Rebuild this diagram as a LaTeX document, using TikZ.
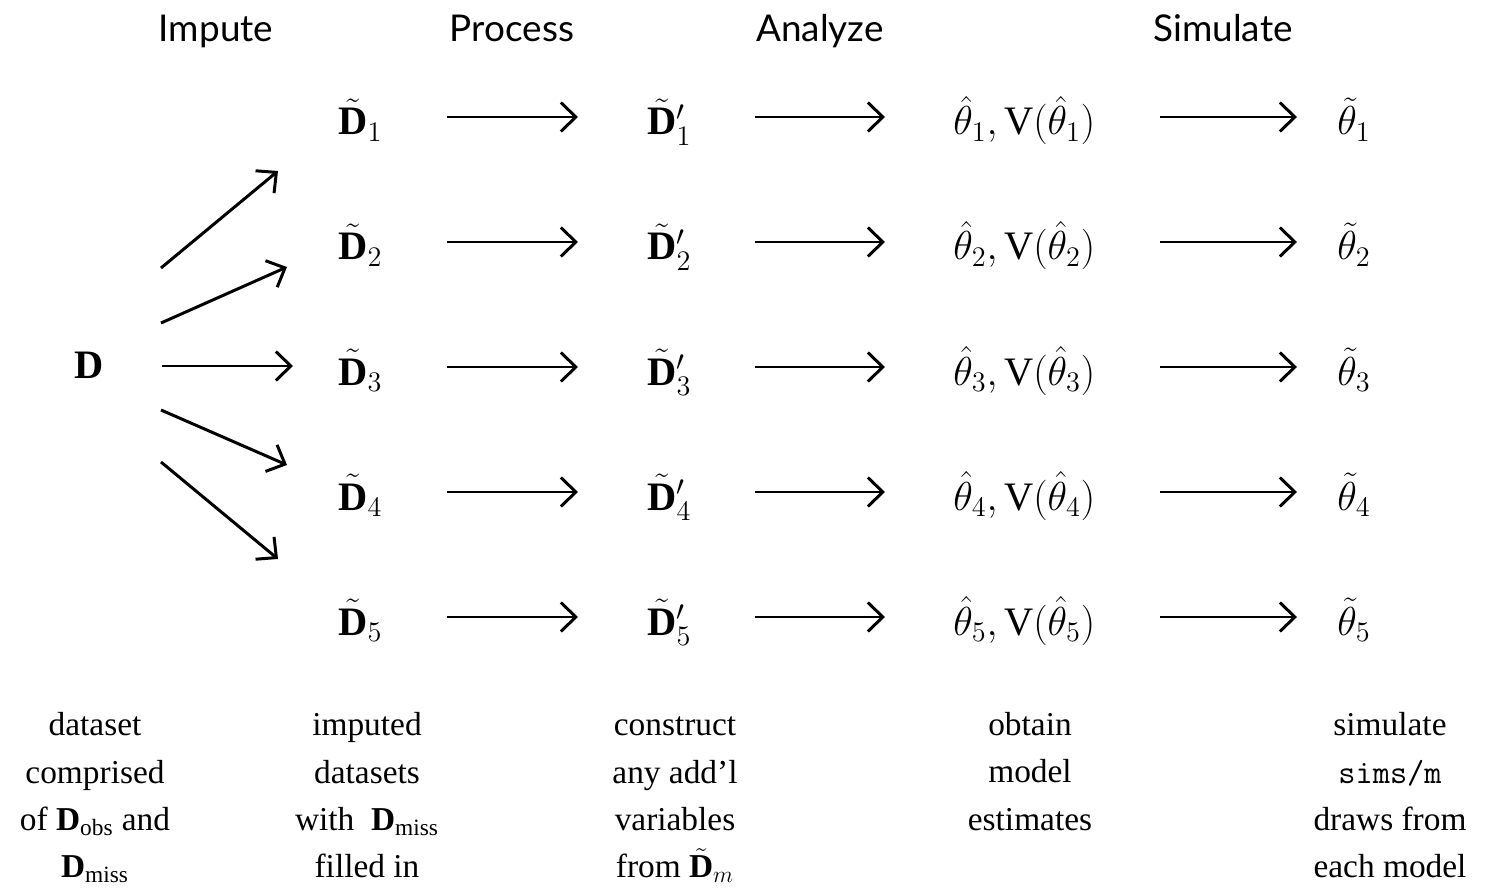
\RequirePackage{fix-cm}
\documentclass[tikz,border=0pt]{standalone}
\usepackage{amsmath}
\usepackage{fontspec}
\setmainfont{Liberation Serif}
\newfontfamily\headfont{Lato}
\usetikzlibrary{arrows.meta}
\begin{document}
\begin{tikzpicture}[x=0.02cm,y=-0.02cm,
  arr/.style={line width=1.7pt,-{Straight Barb[length=0.3cm,width=0.58cm]}},
  head/.style={font=\headfont\fontsize{21}{25}\selectfont,anchor=base,inner sep=0pt},
  mth/.style={font=\fontsize{23}{28}\selectfont,anchor=base west,inner sep=0pt},
  desc/.style={font=\fontsize{19}{27}\selectfont,align=center,anchor=north,inner sep=0pt}]
\useasboundingbox (0,0) rectangle (1485,895);

\node[head] (h1) at (216,42) {Impute};
\node[head] (h2) at (512,42) {Process};
\node[head] (h3) at (820,42) {Analyze};
\node[head] (h4) at (1223,42) {Simulate};

\node[mth] (D) at (74,378) {$\mathbf{D}$};

\foreach \i in {1,...,5}{
  \pgfmathsetmacro{\yy}{135+125*(\i-1)}
  \node[mth] (d\i) at (338,\yy) {$\tilde{\mathbf{D}}_{\i}$};
  \node[mth] (p\i) at (647,\yy) {$\tilde{\mathbf{D}}'_{\i}$};
  \node[mth] (t\i) at (953,\yy) {$\hat{\theta}_{\i},\mathrm{V}(\hat{\theta}_{\i})$};
  \node[mth] (s\i) at (1337,\yy) {$\tilde{\theta}_{\i}$};
  \draw[arr] ([shift={(109,-18)}]d\i.base west) -- ([shift={(-69,-18)}]p\i.base west);
  \draw[arr] ([shift={(108,-18)}]p\i.base west) -- ([shift={(-68,-18)}]t\i.base west);
  \draw[arr] ([shift={(207,-18)}]t\i.base west) -- ([shift={(-40,-18)}]s\i.base west);
}

\draw[arr] ([shift={(87,-110)}]D.base west) -- ([shift={(-60,36)}]d1.base west);
\draw[arr] ([shift={(87,-55)}]D.base west) -- ([shift={(-51,7)}]d2.base west);
\draw[arr] ([shift={(88,-12)}]D.base west) -- ([shift={(-45,-19)}]d3.base west);
\draw[arr] ([shift={(87,32)}]D.base west) -- ([shift={(-51,-45)}]d4.base west);
\draw[arr] ([shift={(87,84)}]D.base west) -- ([shift={(-60,-76)}]d5.base west);

\node[desc] (b1) at (95,702) {\strut dataset\\comprised\\of $\mathbf{D}_{\text{obs}}$ and\\$\mathbf{D}_{\text{miss}}$};
\node[desc] (b2) at (367,702) {\strut imputed\\datasets\\with\enspace$\mathbf{D}_{\text{miss}}$\\filled in};
\node[desc] (b3) at (675,702) {\strut construct\\any add’l\\variables\\from $\tilde{\mathbf{D}}_m$};
\node[desc] (b4) at (1030,702) {\strut obtain\\model\\estimates};
\node[desc] (b5) at (1390,702) {\strut simulate\\\texttt{sims/m}\\draws from\\each model};
\end{tikzpicture}
\end{document}
